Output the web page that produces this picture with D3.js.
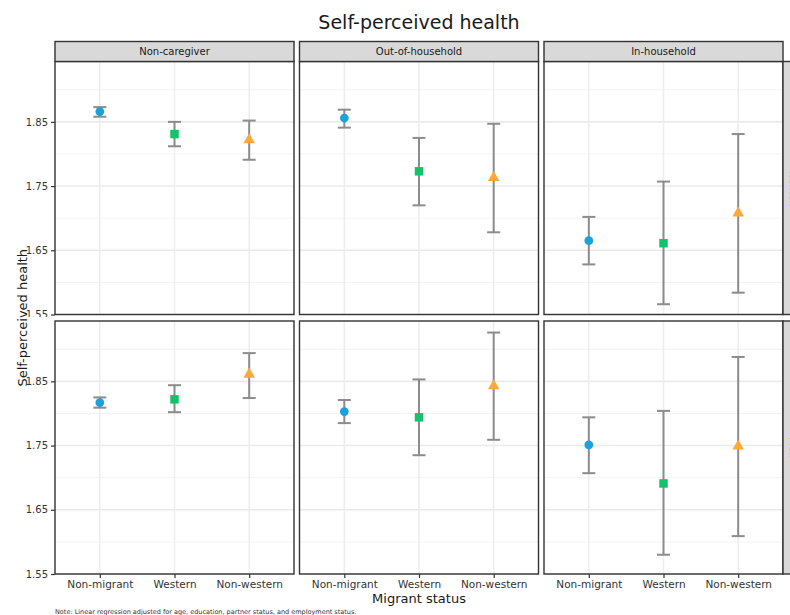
<!DOCTYPE html>
<html>
<head>
<meta charset="utf-8">
<script src="https://cdn.jsdelivr.net/npm/d3@7"></script>
<style>
  body { margin: 0; background: #fff; }
  svg { font-family: "DejaVu Sans", sans-serif; }
</style>
</head>
<body>
<div id="vis"></div>
<script>
// chart data
const MIGRANT = ["Non-migrant", "Western", "Non-western"];
const CAREGIVER = ["Non-caregiver", "Out-of-household", "In-household"];
const SEX = ["Women", "Men"];
const Y_TICKS = [1.55, 1.65, 1.75, 1.85];
const Y_MINOR = [1.60, 1.70, 1.80, 1.90];

// estimate[sex][caregiver][migrant]
const ESTIMATE = [
  [[1.866, 1.831, 1.822], [1.856, 1.773, 1.763], [1.665, 1.661, 1.708]],
  [[1.817, 1.822, 1.861], [1.803, 1.794, 1.843], [1.751, 1.691, 1.749]]
];
const LOWER = [
  [[1.858, 1.812, 1.791], [1.841, 1.720, 1.678], [1.628, 1.566, 1.584]],
  [[1.809, 1.802, 1.824], [1.785, 1.735, 1.759], [1.707, 1.580, 1.609]]
];
const UPPER = [
  [[1.873, 1.850, 1.852], [1.869, 1.825, 1.847], [1.702, 1.757, 1.831]],
  [[1.825, 1.844, 1.894], [1.821, 1.853, 1.926], [1.794, 1.804, 1.888]]
];

// frame
const FRAME_WIDTH = 790;
const FRAME_HEIGHT = 615;
const PANEL_W = 239;
const PANEL_H = 253;
const COL_X = [55, 299.5, 544];
const ROW_Y = [61.5, 321];
const STRIP_H = 20;
const COLORS = ["#1ba1db", "#0fc46a", "#ffa83a"];

const svg = d3.select("#vis")
  .append("svg")
    .attr("width", FRAME_WIDTH)
    .attr("height", FRAME_HEIGHT);

// scales
const X_SCALE = d3.scalePoint()
  .domain(MIGRANT)
  .range([0, PANEL_W])
  .padding(0.6);

const Y_SCALE = d3.scaleLinear()
  .domain([1.55, 1.944])
  .range([PANEL_H, 0]);

const symbols = [d3.symbolCircle, d3.symbolSquare, d3.symbolTriangle];
const symbolSize = [60, 72, 58];

// title
svg.append("text")
  .attr("x", 419)
  .attr("y", 29)
  .attr("text-anchor", "middle")
  .attr("font-size", "19px")
  .attr("fill", "#1a1a1a")
  .text("Self-perceived health");

// clip for the first row's axis labels (cut at the row gap, as in ggplot)
svg.append("clipPath").attr("id", "row0clip")
  .append("rect").attr("x", 0).attr("y", 0).attr("width", 55).attr("height", 317);

SEX.forEach((sex, r) => {
  CAREGIVER.forEach((care, c) => {
    const g = svg.append("g")
      .attr("transform", "translate(" + COL_X[c] + "," + ROW_Y[r] + ")");

    g.append("rect")
      .attr("width", PANEL_W)
      .attr("height", PANEL_H)
      .attr("fill", "#fff");

    // minor grid
    g.selectAll(".minor")
      .data(Y_MINOR)
      .enter()
      .append("line")
        .attr("x1", 0).attr("x2", PANEL_W)
        .attr("y1", d => Y_SCALE(d)).attr("y2", d => Y_SCALE(d))
        .attr("stroke", "#f3f3f3")
        .attr("stroke-width", 1);

    // major grid
    g.selectAll(".major")
      .data(Y_TICKS)
      .enter()
      .append("line")
        .attr("x1", 0).attr("x2", PANEL_W)
        .attr("y1", d => Y_SCALE(d)).attr("y2", d => Y_SCALE(d))
        .attr("stroke", "#ebebeb")
        .attr("stroke-width", 1.6);

    g.selectAll(".vgrid")
      .data(MIGRANT)
      .enter()
      .append("line")
        .attr("x1", d => X_SCALE(d)).attr("x2", d => X_SCALE(d))
        .attr("y1", 0).attr("y2", PANEL_H)
        .attr("stroke", "#eeeeee")
        .attr("stroke-width", 1.6);

    // error bars
    const eb = g.selectAll(".eb")
      .data(MIGRANT)
      .enter()
      .append("g");

    eb.append("line")
      .attr("x1", d => X_SCALE(d)).attr("x2", d => X_SCALE(d))
      .attr("y1", (d, i) => Y_SCALE(LOWER[r][c][i]))
      .attr("y2", (d, i) => Y_SCALE(UPPER[r][c][i]))
      .attr("stroke", "#8c8c8c")
      .attr("stroke-width", 2);

    [LOWER, UPPER].forEach(arr => {
      eb.append("line")
        .attr("x1", d => X_SCALE(d) - 6.5).attr("x2", d => X_SCALE(d) + 6.5)
        .attr("y1", (d, i) => Y_SCALE(arr[r][c][i]))
        .attr("y2", (d, i) => Y_SCALE(arr[r][c][i]))
        .attr("stroke", "#8c8c8c")
        .attr("stroke-width", 2);
    });

    // points
    g.selectAll(".pt")
      .data(MIGRANT)
      .enter()
      .append("path")
        .attr("d", (d, i) => d3.symbol().type(symbols[i]).size(symbolSize[i])())
        .attr("transform", (d, i) => "translate(" + X_SCALE(d) + "," + Y_SCALE(ESTIMATE[r][c][i]) + ")")
        .attr("fill", (d, i) => COLORS[i]);

    // border
    g.append("rect")
      .attr("width", PANEL_W)
      .attr("height", PANEL_H)
      .attr("fill", "none")
      .attr("stroke", "#333")
      .attr("stroke-width", 1.4);

    // top strip
    if (r === 0) {
      svg.append("rect")
        .attr("x", COL_X[c]).attr("y", ROW_Y[0] - STRIP_H)
        .attr("width", PANEL_W).attr("height", STRIP_H)
        .attr("fill", "#d9d9d9")
        .attr("stroke", "#333")
        .attr("stroke-width", 1.4);
      svg.append("text")
        .attr("x", COL_X[c] + PANEL_W / 2)
        .attr("y", ROW_Y[0] - STRIP_H / 2 + 3.5)
        .attr("text-anchor", "middle")
        .attr("font-size", "10px")
        .attr("fill", "#1a1a1a")
        .text(care);
    }

    // x axis on bottom row
    if (r === SEX.length - 1) {
      svg.append("g")
        .attr("transform", "translate(" + COL_X[c] + "," + (ROW_Y[r] + PANEL_H) + ")")
        .call(d3.axisBottom(X_SCALE).tickSize(4).tickPadding(3))
        .call(a => a.select(".domain").remove())
        .call(a => a.selectAll("line").attr("stroke", "#333").attr("stroke-width", 1.2))
        .call(a => a.selectAll("text")
          .attr("font-family", "DejaVu Sans")
          .attr("font-size", "10.5px")
          .attr("fill", "#333"));
    }
  });

  // y axis (wrapped so the clip works in page coordinates)
  svg.append("g")
    .attr("clip-path", r === 0 ? "url(#row0clip)" : null)
    .append("g")
      .attr("transform", "translate(" + COL_X[0] + "," + ROW_Y[r] + ")")
      .call(d3.axisLeft(Y_SCALE).tickValues(Y_TICKS).tickFormat(d3.format(".2f")).tickSize(4).tickPadding(3))
      .call(a => a.select(".domain").remove())
      .call(a => a.selectAll("line").attr("stroke", "#333").attr("stroke-width", 1.2))
      .call(a => a.selectAll("text")
        .attr("font-family", "DejaVu Sans")
        .attr("font-size", "10px")
        .attr("fill", "#333"));

  // right strip (partly outside the frame, as in the reference)
  const sx = COL_X[2] + PANEL_W;
  svg.append("rect")
    .attr("x", sx).attr("y", ROW_Y[r])
    .attr("width", STRIP_H).attr("height", PANEL_H)
    .attr("fill", "#d9d9d9")
    .attr("stroke", "#333")
    .attr("stroke-width", 1.4);
  svg.append("text")
    .attr("transform", "translate(" + (sx + STRIP_H / 2 - 3.5) + "," + (ROW_Y[r] + PANEL_H / 2) + ") rotate(90)")
    .attr("text-anchor", "middle")
    .attr("font-size", "10px")
    .attr("fill", "#1a1a1a")
    .text(sex);
});

// axis titles
svg.append("text")
  .attr("transform", "translate(27," + (ROW_Y[0] + (ROW_Y[1] + PANEL_H - ROW_Y[0]) / 2) + ") rotate(-90)")
  .attr("text-anchor", "middle")
  .attr("font-size", "13px")
  .attr("fill", "#1a1a1a")
  .text("Self-perceived health");

svg.append("text")
  .attr("x", 419)
  .attr("y", 603)
  .attr("text-anchor", "middle")
  .attr("font-size", "13px")
  .attr("fill", "#1a1a1a")
  .text("Migrant status");

// note
svg.append("text")
  .attr("x", 55)
  .attr("y", 614)
  .attr("font-size", "6.5px")
  .attr("fill", "#333")
  .text("Note: Linear regression adjusted for age, education, partner status, and employment status.");
</script>
</body>
</html>
